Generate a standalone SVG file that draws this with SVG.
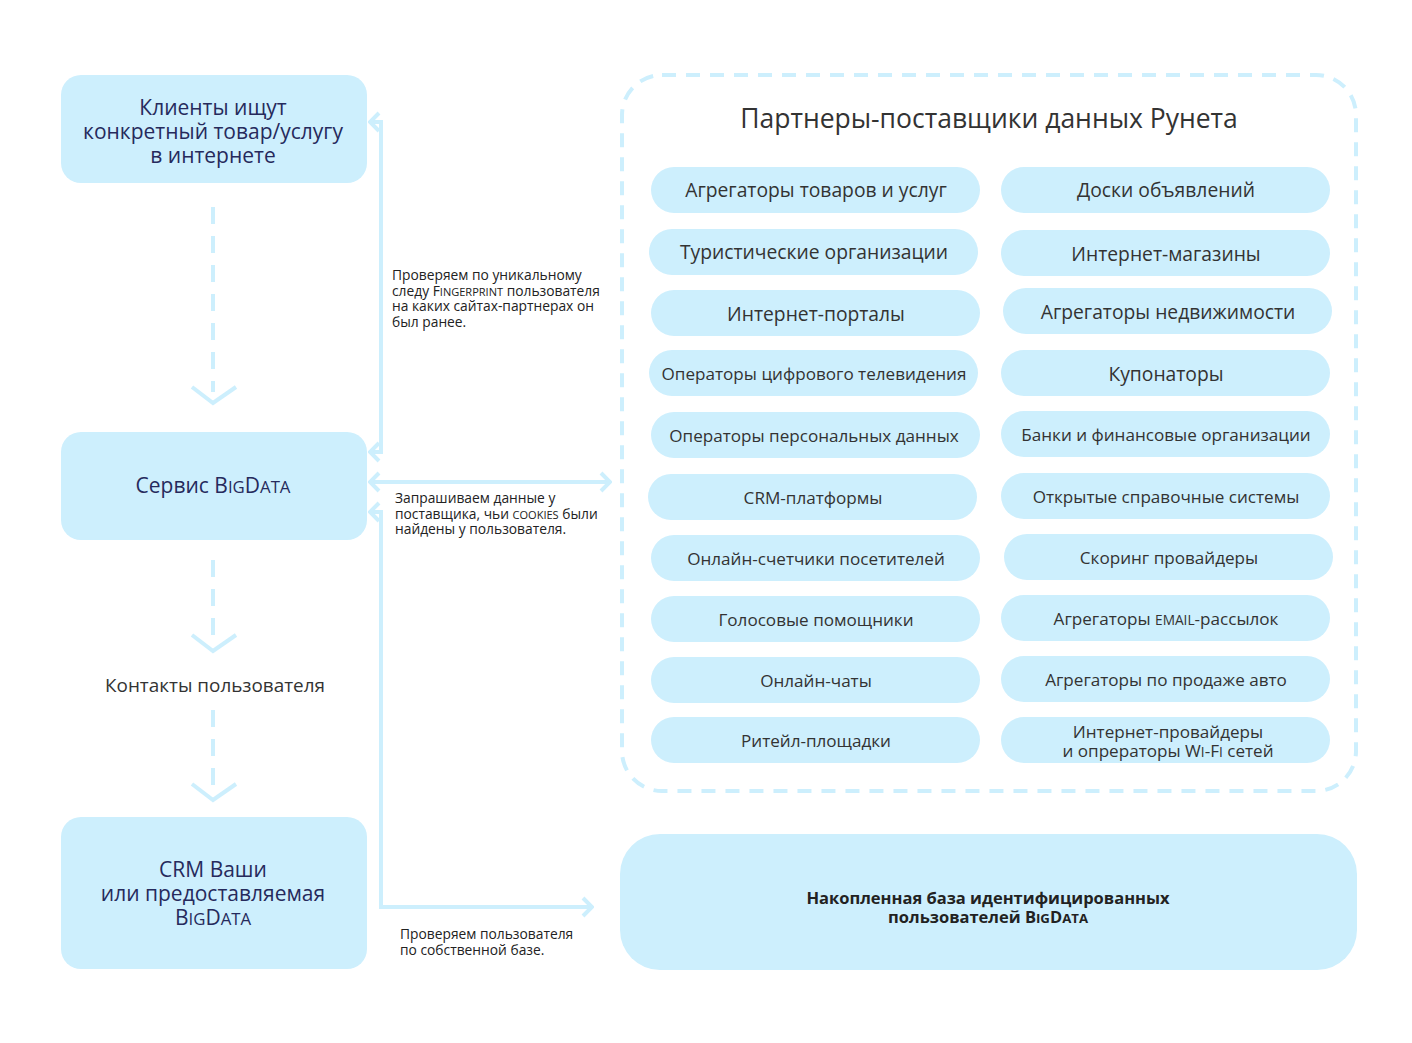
<svg xmlns="http://www.w3.org/2000/svg" width="1412" height="1043" viewBox="0 0 1412 1043">
<defs>
<style>
.node{fill:#cdeffd;}
.lt{font-family:"Open Sans","Noto Sans",sans-serif;font-size:21px;fill:#262a5c;text-anchor:middle;}
.pt{font-family:"Open Sans","Noto Sans",sans-serif;fill:#333333;text-anchor:middle;}
.big{font-size:19.3px;}
.sm{font-size:17.1px;}
.lab{font-family:"Open Sans","Noto Sans",sans-serif;font-size:13.8px;fill:#222222;}
.bold{font-size:16.5px;font-weight:bold;fill:#222222;}
.sc{font-size:80%;}
.conn{fill:none;stroke:#cdeffd;stroke-width:4;}
.dash{fill:none;stroke:#cdeffd;stroke-width:4;stroke-dasharray:17 12;}
.chev{fill:none;stroke:#cdeffd;stroke-width:4;}
</style>
<marker id="ah" markerUnits="userSpaceOnUse" viewBox="-12 -12 14 24" refX="0" refY="0" markerWidth="14" markerHeight="24" orient="auto-start-reverse">
<path d="M -9 -9 L 0 0 L -9 9" fill="none" stroke="#cdeffd" stroke-width="4"/>
</marker>
</defs>
<rect width="1412" height="1043" fill="#ffffff"/>

<g id="connectors">
<line class="dash" x1="213" y1="207" x2="213" y2="392"/>
<polyline class="chev" points="192,387 213,403 236,387"/>
<line class="dash" x1="213" y1="560" x2="213" y2="640"/>
<polyline class="chev" points="192,635 213,651 236,635"/>
<line class="dash" x1="213" y1="710" x2="213" y2="790"/>
<polyline class="chev" points="192,784 213,800 236,784"/>
<path class="conn" d="M 370 122 H 381 V 452 H 370" marker-start="url(#ah)" marker-end="url(#ah)"/>
<line class="conn" x1="370" y1="482" x2="610" y2="482" marker-start="url(#ah)" marker-end="url(#ah)"/>
<path class="conn" d="M 370 512 H 381 V 907 H 592" marker-start="url(#ah)" marker-end="url(#ah)"/>
<text class="lab" x="392" y="280">Проверяем по уникальному</text>
<text class="lab" x="392" y="296">следу F<tspan class="sc">INGERPRINT</tspan> пользователя</text>
<text class="lab" x="392" y="311">на каких сайтах-партнерах он</text>
<text class="lab" x="392" y="327">был ранее.</text>
<text class="lab" x="395" y="503">Запрашиваем данные у</text>
<text class="lab" x="395" y="519">поставщика, чьи <tspan class="sc">COOKIES</tspan> были</text>
<text class="lab" x="395" y="534">найдены у пользователя.</text>
<text class="lab" x="400" y="939">Проверяем пользователя</text>
<text class="lab" x="400" y="955">по собственной базе.</text>
</g>

<g id="node-clients">
<rect class="node" x="61" y="75" width="306" height="108" rx="20"/>
<text class="lt" x="213" y="115">Клиенты ищут</text>
<text class="lt" x="213" y="139">конкретный товар/услугу</text>
<text class="lt" x="213" y="163">в интернете</text>
</g>
<g id="node-service">
<rect class="node" x="61" y="432" width="306" height="108" rx="20"/>
<text class="lt" x="213" y="493">Сервис B<tspan class="sc">IG</tspan>D<tspan class="sc">ATA</tspan></text>
</g>
<g id="node-contacts">
<text class="lt" x="215" y="692" style="fill:#333333;font-size:18.9px">Контакты пользователя</text>
</g>
<g id="node-crm">
<rect class="node" x="61" y="817" width="306" height="152" rx="20"/>
<text class="lt" x="213" y="877">CRM Ваши</text>
<text class="lt" x="213" y="901">или предоставляемая</text>
<text class="lt" x="213" y="925">B<tspan class="sc">IG</tspan>D<tspan class="sc">ATA</tspan></text>
</g>

<g id="partners">
<rect x="622" y="75" width="734" height="716" rx="40" fill="none" stroke="#cdeffd" stroke-width="4" stroke-dasharray="14 10"/>
<text class="pt" x="989" y="128" style="font-size:26.5px">Партнеры-поставщики данных Рунета</text>
</g>

<g id="p1"><rect class="node" x="651" y="167" width="329" height="46" rx="23"/><text class="pt big" x="816" y="197">Агрегаторы товаров и услуг</text></g>
<g id="p2"><rect class="node" x="1001" y="167" width="329" height="46" rx="23"/><text class="pt big" x="1166" y="197">Доски объявлений</text></g>
<g id="p3"><rect class="node" x="649" y="229" width="329" height="46" rx="23"/><text class="pt big" x="814" y="259">Туристические организации</text></g>
<g id="p4"><rect class="node" x="1001" y="230" width="329" height="46" rx="23"/><text class="pt big" x="1166" y="261">Интернет-магазины</text></g>
<g id="p5"><rect class="node" x="651" y="290" width="329" height="46" rx="23"/><text class="pt big" x="816" y="321">Интернет-порталы</text></g>
<g id="p6"><rect class="node" x="1003" y="288" width="329" height="46" rx="23"/><text class="pt big" x="1168" y="319">Агрегаторы недвижимости</text></g>
<g id="p7"><rect class="node" x="649" y="350" width="329" height="46" rx="23"/><text class="pt sm" x="814" y="380">Операторы цифрового телевидения</text></g>
<g id="p8"><rect class="node" x="1001" y="350" width="329" height="46" rx="23"/><text class="pt big" x="1166" y="381">Купонаторы</text></g>
<g id="p9"><rect class="node" x="651" y="412" width="329" height="46" rx="23"/><text class="pt sm" x="814" y="442">Операторы персональных данных</text></g>
<g id="p10"><rect class="node" x="1001" y="411" width="329" height="46" rx="23"/><text class="pt sm" x="1166" y="441">Банки и финансовые организации</text></g>
<g id="p11"><rect class="node" x="648" y="474" width="329" height="46" rx="23"/><text class="pt sm" x="813" y="504">CRM-платформы</text></g>
<g id="p12"><rect class="node" x="1001" y="473" width="329" height="46" rx="23"/><text class="pt sm" x="1166" y="503">Открытые справочные системы</text></g>
<g id="p13"><rect class="node" x="651" y="535" width="329" height="46" rx="23"/><text class="pt sm" x="816" y="565">Онлайн-счетчики посетителей</text></g>
<g id="p14"><rect class="node" x="1004" y="534" width="329" height="46" rx="23"/><text class="pt sm" x="1169" y="564">Скоринг провайдеры</text></g>
<g id="p15"><rect class="node" x="651" y="596" width="329" height="46" rx="23"/><text class="pt sm" x="816" y="626">Голосовые помощники</text></g>
<g id="p16"><rect class="node" x="1001" y="595" width="329" height="46" rx="23"/><text class="pt sm" x="1166" y="625">Агрегаторы <tspan class="sc">EMAIL</tspan>-рассылок</text></g>
<g id="p17"><rect class="node" x="651" y="657" width="329" height="46" rx="23"/><text class="pt sm" x="816" y="687">Онлайн-чаты</text></g>
<g id="p18"><rect class="node" x="1001" y="656" width="329" height="46" rx="23"/><text class="pt sm" x="1166" y="686">Агрегаторы по продаже авто</text></g>
<g id="p19"><rect class="node" x="651" y="717" width="329" height="46" rx="23"/><text class="pt sm" x="816" y="747">Ритейл-площадки</text></g>
<g id="p20"><rect class="node" x="1001" y="717" width="329" height="46" rx="23"/><text class="pt sm" x="1168" y="738">Интернет-провайдеры</text><text class="pt sm" x="1168" y="757">и опрераторы W<tspan class="sc">I</tspan>-F<tspan class="sc">I</tspan> сетей</text></g>

<g id="node-database">
<rect class="node" x="620" y="834" width="737" height="136" rx="40"/>
<text class="pt bold" x="988" y="904">Накопленная база идентифицированных</text>
<text class="pt bold" x="988" y="923">пользователей B<tspan class="sc">IG</tspan>D<tspan class="sc">ATA</tspan></text>
</g>
</svg>
